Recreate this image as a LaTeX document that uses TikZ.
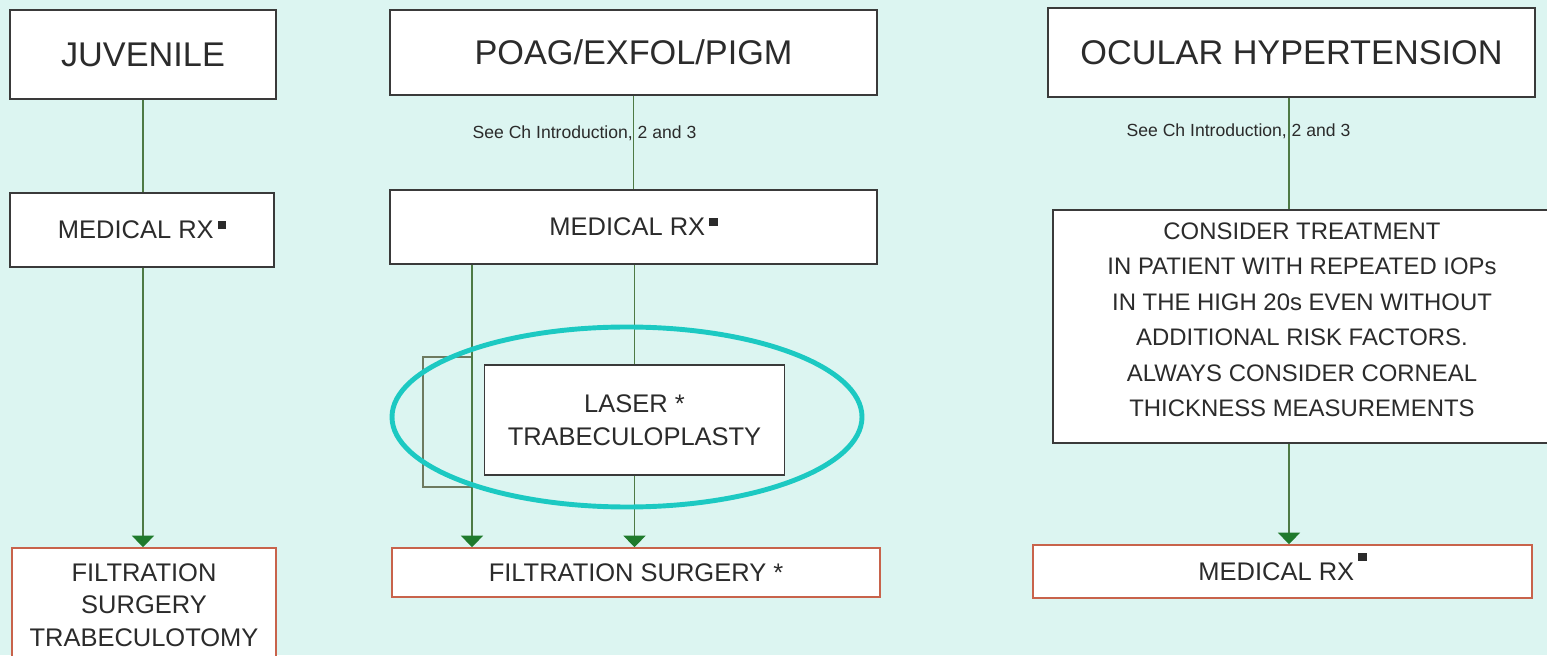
\documentclass[tikz,border=0pt]{standalone}
\usepackage{fontspec}
\setmainfont{Liberation Sans}
\usepackage{xcolor}
\usepackage{tikz}
\usetikzlibrary{arrows.meta}
\definecolor{chartBg}{HTML}{DCF5F1}
\definecolor{boxLine}{HTML}{3A3A3A}
\definecolor{boxText}{HTML}{2B2B2B}
\definecolor{endLine}{HTML}{C8634B}
\definecolor{flowGreen}{HTML}{4E7A45}
\definecolor{tipGreen}{HTML}{1F7A2C}
\definecolor{ringTeal}{HTML}{1CC9C2}
\definecolor{bracketLine}{HTML}{6E7A60}
\newcommand{\rxmark}[1][5.5pt]{\,\smash{\raisebox{#1}{\rule{4.6pt}{4.6pt}}}}
\tikzset{
  flowbox/.style={rectangle, draw=#1, fill=white, text=boxText, line width=0.9pt, align=center, inner sep=0pt, font=\fontsize{14.5}{18.5}\selectfont},
  headbox/.style={flowbox=boxLine, line width=1pt, font=\fontsize{19.5}{23}\selectfont},
  flowline/.style={draw=flowGreen, line width=0.8pt},
  flowarrow/.style={flowline, -{Triangle[length=2.3mm,width=4.4mm,color=tipGreen]}},
  notelabel/.style={font=\fontsize{10}{12}\selectfont, text=boxText, inner sep=0pt},
  bracketbox/.style={rectangle, draw=bracketLine, line width=0.6pt, inner sep=0pt},
  ringline/.style={draw=ringTeal, line width=2.8pt},
}

\begin{document}
\begin{tikzpicture}[x=1cm,y=1cm]
      \useasboundingbox (0,0) rectangle (30.94,13.1);
      \fill[chartBg] (0,0) rectangle (30.94,13.1);

      % juvenile column
      \node[headbox, minimum width=5.32cm, minimum height=1.78cm]
      (juv) at (2.86,12.01) {JUVENILE};

      \node[flowbox=boxLine, minimum width=5.28cm, minimum height=1.48cm]
      (medL) at (2.84,8.50) {MEDICAL RX\rxmark};

      \node[flowbox=endLine, minimum width=5.28cm, minimum height=2.28cm]
      (filtL) at (2.88,1.00) {FILTRATION\\SURGERY\\TRABECULOTOMY};

      % poag column
      \node[headbox, minimum width=9.74cm, minimum height=1.70cm]
      (poag) at (12.67,12.05) {POAG/EXFOL/PIGM};

      \node[notelabel] (seeM) at (11.69,10.44) {See Ch Introduction, 2 and 3};

      \node[flowbox=boxLine, minimum width=9.74cm, minimum height=1.48cm]
      (medM) at (12.67,8.56) {MEDICAL RX\rxmark};

      \node[bracketbox, minimum width=0.98cm, minimum height=2.6cm]
      (bracket) at (8.95,4.66) {};

      \node[flowbox=boxLine, minimum width=6.0cm, minimum height=2.2cm]
      (laser) at (12.69,4.70) {LASER *\\TRABECULOPLASTY};

      \node[flowbox=endLine, minimum width=9.76cm, minimum height=0.98cm]
      (filtM) at (12.72,1.65) {FILTRATION SURGERY *};

      % ocular hypertension column
      \node[headbox, minimum width=9.74cm, minimum height=1.78cm]
      (ocu) at (25.83,12.05) {OCULAR HYPERTENSION};

      \node[notelabel] (seeR) at (24.77,10.48) {See Ch Introduction, 2 and 3};

      \node[flowbox=boxLine, minimum width=9.96cm, minimum height=4.66cm,
            font=\fontsize{13.6}{20.2}\selectfont, text depth=0.28cm]
      (cons) at (26.04,6.57)
      {CONSIDER TREATMENT\\IN PATIENT WITH REPEATED IOPs\\IN THE HIGH 20s EVEN WITHOUT\\
       ADDITIONAL RISK FACTORS.\\ALWAYS CONSIDER CORNEAL\\THICKNESS MEASUREMENTS};

      \node[flowbox=endLine, minimum width=9.98cm, minimum height=1.06cm]
      (medR) at (25.65,1.67) {MEDICAL RX\rxmark[11pt]};

      \coordinate (bypass) at (9.44,0);
      \coordinate (ohX) at (25.78,0);

      \draw[flowline] (juv.south) -- (juv.south |- medL.north);
      \draw[flowarrow] (medL.south -| juv) -- (filtL.north -| juv);
      \draw[flowline] (poag) -- (medM);
      \draw[flowline] (medM.south -| laser) -- (laser.north);
      \draw[flowarrow] (laser) -- (laser |- filtM.north);
      \draw[flowarrow] (medM.south -| bypass) -- (filtM.north -| bypass);
      \draw[flowline] (ocu.south -| ohX) -- (cons.north -| ohX);
      \draw[flowarrow] (cons.south -| ohX) -- (medR.north -| ohX);

      \draw[ringline] (12.54,4.76) ellipse [x radius=4.70, y radius=1.80];
    \end{tikzpicture}
\end{document}
